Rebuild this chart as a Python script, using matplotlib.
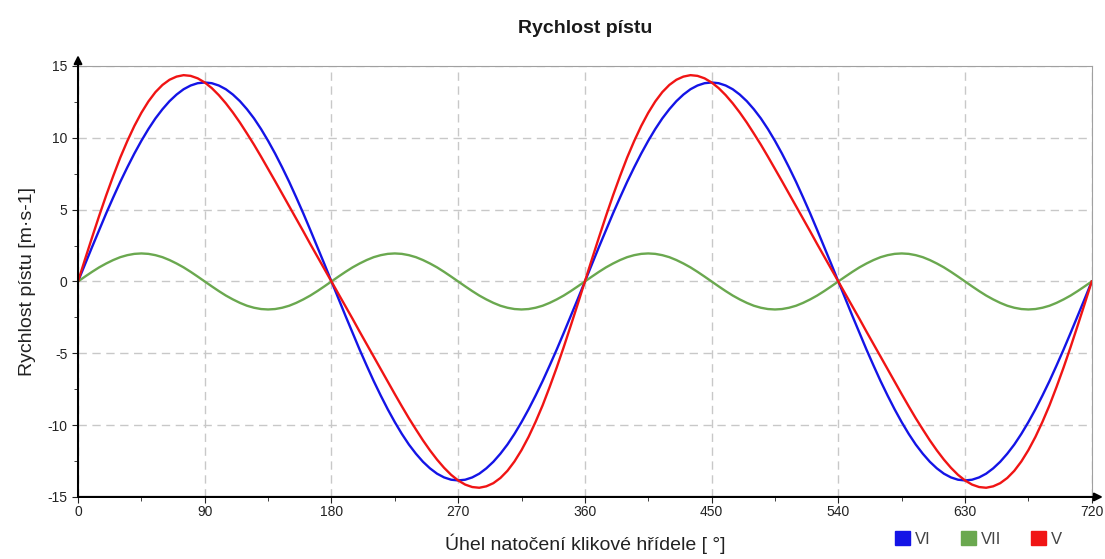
import matplotlib
matplotlib.use("Agg")
import matplotlib.pyplot as plt
from matplotlib.patches import Patch
from matplotlib.ticker import MultipleLocator

plt.rcParams['font.family'] = ['Liberation Sans', 'DejaVu Sans']
plt.rcParams['axes.unicode_minus'] = False

# úhel natočení klikové hřídele [°], krok 5°
uhel = list(range(0, 721, 5))

# VI - rychlost 1. řádu
v1 = [0, 1.21, 2.40, 3.58, 4.74, 5.85, 6.93, 7.94, 8.90, 9.79, 10.61, 11.35, 11.99, 12.55, 13.01, 13.38, 13.64, 13.80, 13.85,
      13.80, 13.64, 13.38, 13.01, 12.55, 11.99, 11.35, 10.61, 9.79, 8.90, 7.94, 6.93, 5.85, 4.74, 3.58, 2.40, 1.21, 0,
      -1.21, -2.40, -3.58, -4.74, -5.85, -6.93, -7.94, -8.90, -9.79, -10.61, -11.35, -11.99, -12.55, -13.01, -13.38, -13.64, -13.80, -13.85,
      -13.80, -13.64, -13.38, -13.01, -12.55, -11.99, -11.35, -10.61, -9.79, -8.90, -7.94, -6.93, -5.85, -4.74, -3.58, -2.40, -1.21, 0,
      1.21, 2.40, 3.58, 4.74, 5.85, 6.93, 7.94, 8.90, 9.79, 10.61, 11.35, 11.99, 12.55, 13.01, 13.38, 13.64, 13.80, 13.85,
      13.80, 13.64, 13.38, 13.01, 12.55, 11.99, 11.35, 10.61, 9.79, 8.90, 7.94, 6.93, 5.85, 4.74, 3.58, 2.40, 1.21, 0,
      -1.21, -2.40, -3.58, -4.74, -5.85, -6.93, -7.94, -8.90, -9.79, -10.61, -11.35, -11.99, -12.55, -13.01, -13.38, -13.64, -13.80, -13.85,
      -13.80, -13.64, -13.38, -13.01, -12.55, -11.99, -11.35, -10.61, -9.79, -8.90, -7.94, -6.93, -5.85, -4.74, -3.58, -2.40, -1.21, 0]

# VII - rychlost 2. řádu
v2 = [0, 0.34, 0.67, 0.98, 1.25, 1.49, 1.69, 1.83, 1.92, 1.95, 1.92, 1.83, 1.69, 1.49, 1.25, 0.98, 0.67, 0.34, 0,
      -0.34, -0.67, -0.98, -1.25, -1.49, -1.69, -1.83, -1.92, -1.95, -1.92, -1.83, -1.69, -1.49, -1.25, -0.98, -0.67, -0.34, 0,
      0.34, 0.67, 0.98, 1.25, 1.49, 1.69, 1.83, 1.92, 1.95, 1.92, 1.83, 1.69, 1.49, 1.25, 0.98, 0.67, 0.34, 0,
      -0.34, -0.67, -0.98, -1.25, -1.49, -1.69, -1.83, -1.92, -1.95, -1.92, -1.83, -1.69, -1.49, -1.25, -0.98, -0.67, -0.34, 0,
      0.34, 0.67, 0.98, 1.25, 1.49, 1.69, 1.83, 1.92, 1.95, 1.92, 1.83, 1.69, 1.49, 1.25, 0.98, 0.67, 0.34, 0,
      -0.34, -0.67, -0.98, -1.25, -1.49, -1.69, -1.83, -1.92, -1.95, -1.92, -1.83, -1.69, -1.49, -1.25, -0.98, -0.67, -0.34, 0,
      0.34, 0.67, 0.98, 1.25, 1.49, 1.69, 1.83, 1.92, 1.95, 1.92, 1.83, 1.69, 1.49, 1.25, 0.98, 0.67, 0.34, 0,
      -0.34, -0.67, -0.98, -1.25, -1.49, -1.69, -1.83, -1.92, -1.95, -1.92, -1.83, -1.69, -1.49, -1.25, -0.98, -0.67, -0.34, 0]

# V - výsledná rychlost pístu
v = [0, 1.55, 3.07, 4.56, 5.99, 7.34, 8.62, 9.77, 10.82, 11.74, 12.53, 13.18, 13.68, 14.04, 14.26, 14.36, 14.31, 14.14, 13.85,
     13.46, 12.97, 12.40, 11.76, 11.06, 10.30, 9.52, 8.69, 7.84, 6.98, 6.11, 5.24, 4.36, 3.49, 2.60, 1.73, 0.87, 0,
     -0.87, -1.73, -2.60, -3.49, -4.36, -5.24, -6.11, -6.98, -7.84, -8.69, -9.52, -10.30, -11.06, -11.76, -12.40, -12.97, -13.46, -13.85,
     -14.14, -14.31, -14.36, -14.26, -14.04, -13.68, -13.18, -12.53, -11.74, -10.82, -9.77, -8.62, -7.34, -5.99, -4.56, -3.07, -1.55, 0,
     1.55, 3.07, 4.56, 5.99, 7.34, 8.62, 9.77, 10.82, 11.74, 12.53, 13.18, 13.68, 14.04, 14.26, 14.36, 14.31, 14.14, 13.85,
     13.46, 12.97, 12.40, 11.76, 11.06, 10.30, 9.52, 8.69, 7.84, 6.98, 6.11, 5.24, 4.36, 3.49, 2.60, 1.73, 0.87, 0,
     -0.87, -1.73, -2.60, -3.49, -4.36, -5.24, -6.11, -6.98, -7.84, -8.69, -9.52, -10.30, -11.06, -11.76, -12.40, -12.97, -13.46, -13.85,
     -14.14, -14.31, -14.36, -14.26, -14.04, -13.68, -13.18, -12.53, -11.74, -10.82, -9.77, -8.62, -7.34, -5.99, -4.56, -3.07, -1.55, 0]

nazvy = ['VI', 'VII', 'V']
barvy = ['#1414e6', '#6aa84f', '#f01414']

fig = plt.figure(figsize=(11.05, 5.59), dpi=100)
ax = fig.add_axes([0.0706, 0.111, 0.9174, 0.771])

ax.plot(uhel, v1, color=barvy[0], lw=1.7)
ax.plot(uhel, v2, color=barvy[1], lw=1.7)
ax.plot(uhel, v, color=barvy[2], lw=1.7)

ax.set_xlim(0, 720)
ax.set_ylim(-15, 15)
ax.xaxis.set_major_locator(MultipleLocator(90))
ax.xaxis.set_minor_locator(MultipleLocator(45))
ax.yaxis.set_major_locator(MultipleLocator(5))
ax.yaxis.set_minor_locator(MultipleLocator(2.5))
ax.tick_params(which='major', length=4, labelsize=10, colors='#222222')
ax.tick_params(which='minor', length=3, colors='#222222')
ax.tick_params(axis='x', pad=2)

# mřížka
ax.grid(True, which='major', color='#c8c8c8', linestyle=(0, (6, 4)), lw=1)

# osy
ax.spines['top'].set_color('#a0a0a0')
ax.spines['right'].set_color('#a0a0a0')
ax.spines['left'].set_visible(False)
ax.spines['bottom'].set_visible(False)
ax.annotate('', xy=(0, 1.025), xytext=(0, 0), xycoords='axes fraction',
            arrowprops=dict(arrowstyle='-|>', color='black', lw=1.5,
                            mutation_scale=12, shrinkA=0, shrinkB=0))
ax.annotate('', xy=(1.011, 0), xytext=(0, 0), xycoords='axes fraction',
            arrowprops=dict(arrowstyle='-|>', color='black', lw=1.5,
                            mutation_scale=12, shrinkA=0, shrinkB=0))

ax.set_title('Rychlost pístu', fontsize=14, fontweight='bold', pad=24,
             color='#1a1a1a')
ax.set_ylabel('Rychlost pístu [m·s-1]', fontsize=14, color='#222222', labelpad=8)
ax.set_xlabel('Úhel natočení klikové hřídele [ °]', fontsize=14,
              color='#222222', labelpad=10)

# legenda
handles = [Patch(facecolor=c, edgecolor=c) for c in barvy]
fig.legend(handles, nazvy, loc='lower right', bbox_to_anchor=(0.975, -0.005),
           ncol=3, frameon=False, fontsize=12, handlelength=0.9,
           handleheight=0.9, handletextpad=0.3, columnspacing=1.8,
           labelcolor='#444444')

fig.savefig('out.png', dpi=100)
